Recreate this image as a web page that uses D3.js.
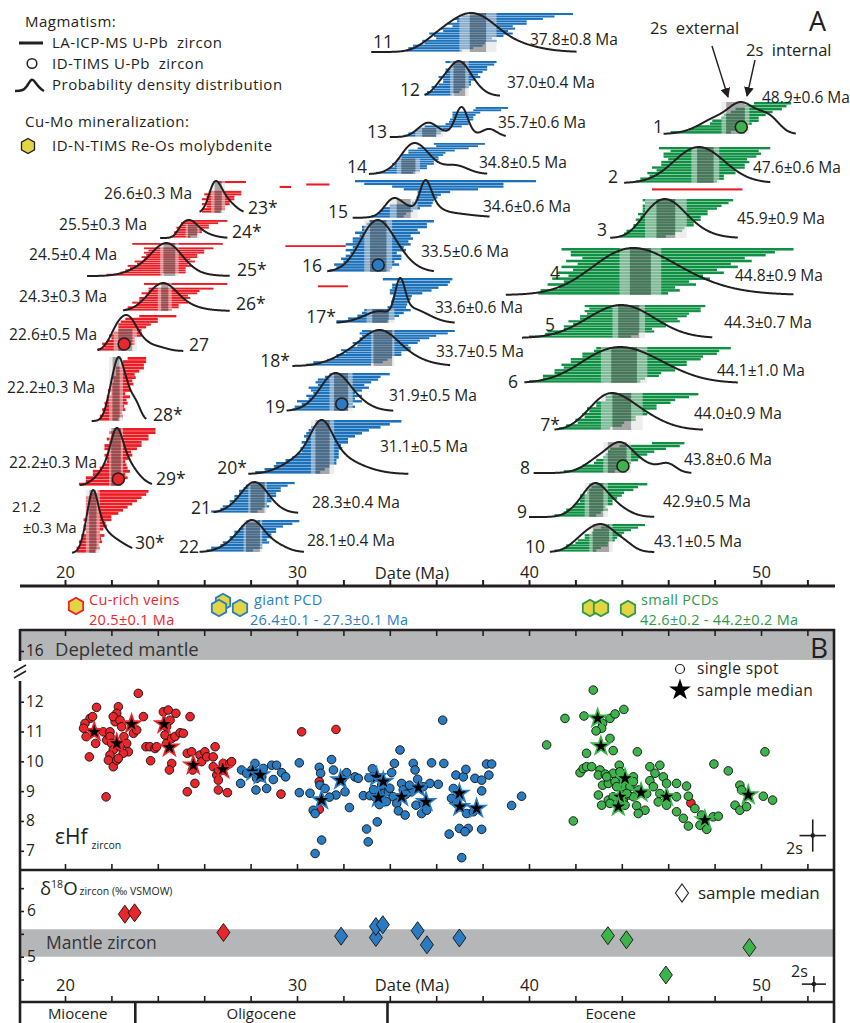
<!DOCTYPE html>
<html><head><meta charset="utf-8">
<script src="https://cdn.jsdelivr.net/npm/d3@7"></script>
<style>
body{margin:0;background:#fff;}
svg{display:block;font-family:"Open Sans",sans-serif;}
</style></head><body>
<svg id="chart" width="850" height="1023"></svg>
<script>
// ---------- Panel A: U-Pb zircon geochronology per sample ----------
const sampleIds = [1,2,3,4,5,6,7,8,9,10,11,12,13,14,15,16,17,18,19,20,21,22,23,24,25,26,27,28,29,30];
const starred = [7,17,18,20,23,24,25,26,28,29,30];
const ages   = [48.9,47.6,45.9,44.8,44.3,44.1,44.0,43.8,42.9,43.1,37.8,37.0,35.7,34.8,34.6,33.5,33.6,33.7,31.9,31.1,28.3,28.1,26.6,25.5,24.5,24.3,22.6,22.2,22.2,21.2];
const ext2s  = [0.6,0.6,0.9,0.9,0.7,1.0,0.9,0.6,0.5,0.5,0.8,0.4,0.6,0.5,0.6,0.6,0.6,0.5,0.5,0.5,0.4,0.4,0.3,0.3,0.4,0.3,0.5,0.3,0.3,0.3];
const int2s  = [0.4,0.35,0.4,0.45,0.45,0.55,0.4,0.4,0.3,0.35,0.35,0.25,0.3,0.3,0.3,0.35,0.35,0.4,0.3,0.3,0.3,0.3,0.15,0.2,0.25,0.15,0.3,0.15,0.2,0.15];
// number of youngest spots (bottom of each stack) pooled in the weighted mean; 0 = all
const meanCount = [0,0,0,0,0,0,0,0,0,0, 0,0,4,7,7,0,5,0,0,0,0,0, 0,6,0,0,8,0,0,0];
// date window over which each probability density curve is drawn
const pdfRange = [[45.8,51.5],[44.1,50.4],[43.5,49.0],[39.0,51.4],[39.7,47.9],[39.8,49.0],[41.1,47.5],[40.2,47.0],[40.0,45.4],[40.9,45.4],
  [33.2,42.05],[35.5,38.75],[34.0,39.0],[33.1,38.2],[32.4,38.3],[31.3,35.9],[31.7,36.8],[29.8,36.6],[29.55,34.15],[27.9,34.8],[26.4,30.05],[25.8,30.3],
  [25.8,27.7],[24.1,27.0],[20.95,27.1],[22.5,27.1],[21.4,25.1],[21.15,23.5],[20.65,23.75],[20.3,22.9]];
// ID-TIMS U-Pb zircon ages
const timsSample = [1,8,16,19,27,29];
const timsAge    = [49.15,44.05,33.5,31.93,22.55,22.3];

// LA-ICP-MS spot dates [age, 2s], listed bottom to top of each stack
const spots01 = [[47.4,1.3],[47.9,1.0],[48.3,1.1],[48.7,0.9],[48.9,1.0],[49.1,0.8],[49.3,0.9],[49.6,0.9],[49.9,1.0],[50.2,0.9],[50.5,0.8]];
const spots02 = [[46.35,1.75],[46.6,1.8],[46.8,1.6],[47.0,1.9],[47.2,1.7],[47.3,2.0],[47.5,1.8],[47.6,1.9],[47.7,1.7],[47.8,2.0],[47.9,2.1],[48.0,1.9],[48.0,2.4]];
const spots03 = [[44.9,1.0],[45.2,1.1],[45.4,1.2],[45.6,1.1],[45.8,1.3],[45.9,1.2],[46.0,1.4],[46.1,1.3],[46.2,1.5],[46.3,1.4],[46.5,1.6],[46.6,1.7],[46.8,1.8],[46.85,1.95]];
const spots04 = [[43.2,2.8],[43.5,3.0],[43.8,2.5],[44.0,3.2],[44.2,2.7],[44.4,3.4],[44.6,2.9],[44.8,3.6],[45.0,3.1],[45.2,3.8],[45.4,3.3],[45.6,4.0],[45.8,3.5],[46.0,4.2],[46.2,4.4],[46.4,5.0]];
const spots05 = [[42.2,2.2],[42.7,2.0],[43.1,2.3],[43.4,1.9],[43.7,2.2],[43.9,2.0],[44.1,2.4],[44.3,2.1],[44.5,2.3],[44.7,2.2],[44.9,2.5],[45.0,2.4],[45.0,2.6]];
const spots06 = [[42.4,2.4],[42.8,2.2],[43.1,2.5],[43.4,2.3],[43.7,2.6],[43.9,2.4],[44.1,2.7],[44.3,2.5],[44.6,2.8],[44.9,2.6],[45.2,2.9],[45.5,2.7],[45.8,2.9]];
const spots07 = [[42.4,1.1],[42.8,1.2],[43.1,1.0],[43.3,1.3],[43.5,1.1],[43.7,1.4],[43.8,1.2],[44.0,1.5],[44.2,1.3],[44.5,1.6],[44.8,1.5],[45.1,1.8],[45.4,1.9]];
const spots08 = [[42.6,1.1],[43.0,0.9],[43.3,1.0],[43.6,0.8],[43.8,0.9],[44.0,0.8],[44.2,0.9],[44.4,1.0],[44.7,1.2],[45.2,1.3],[46.0,0.7]];
const spots09 = [[42.0,0.9],[42.3,0.8],[42.5,0.9],[42.6,0.7],[42.8,0.8],[42.9,0.7],[43.0,0.8],[43.1,0.9],[43.3,0.8],[43.5,1.0],[43.7,1.0],[44.0,1.1]];
const spots10 = [[42.0,0.9],[42.3,0.8],[42.5,0.9],[42.7,0.7],[42.9,0.8],[43.1,0.7],[43.2,0.8],[43.4,0.7],[43.6,0.8],[43.9,0.8],[44.2,0.8]];
const spots11 = [[35.9,1.2],[36.2,1.4],[36.5,1.5],[36.8,1.3],[37.0,1.6],[37.2,1.2],[37.4,1.5],[37.5,1.8],[37.7,1.4],[37.8,1.6],[38.0,1.3],[38.2,1.7],[38.4,1.5],[38.7,1.9],[39.1,2.0],[39.8,2.1]];
const spots12 = [[36.1,0.6],[36.3,0.7],[36.5,0.6],[36.6,0.8],[36.8,0.7],[36.9,0.6],[37.0,0.7],[37.0,0.9],[37.1,0.7],[37.2,0.8],[37.3,0.9],[37.4,0.8],[37.6,0.9],[37.5,1.1]];
const spots13 = [[35.3,0.7],[35.5,0.7],[35.7,0.6],[35.9,0.7],[36.3,0.8],[36.9,0.5],[37.0,0.45],[37.1,0.5],[37.15,0.45],[37.2,0.5],[37.3,0.6],[38.2,0.6],[38.4,0.7]];
const spots14 = [[34.2,0.8],[34.6,0.7],[34.8,0.8],[34.9,0.7],[35.0,0.9],[35.1,0.8],[35.2,0.9],[35.3,0.8],[35.4,0.9],[35.6,0.8],[35.8,1.0],[36.3,1.1],[36.9,0.9],[37.0,1.1]];
const spots15 = [[33.9,0.7],[34.1,0.6],[34.3,0.7],[34.5,0.8],[34.9,0.9],[35.4,0.45],[35.5,0.4],[35.6,0.45],[35.7,0.5],[35.9,0.7],[36.2,1.6],[36.5,2.4],[35.9,3.0],[36.4,3.9]];
const spots16 = [[32.7,1.3],[32.9,1.2],[33.0,1.4],[33.1,1.1],[33.2,1.3],[33.3,1.2],[33.3,1.0],[33.4,1.3],[33.5,1.1],[33.5,1.4],[33.6,1.2],[33.7,1.3],[33.8,1.1],[33.9,1.4],[34.0,1.2],[34.2,1.4],[34.3,1.3],[34.5,1.4]];
const spots17 = [[32.8,1.1],[33.2,1.0],[33.5,0.9],[33.7,0.9],[33.9,1.0],[34.3,0.4],[34.4,0.35],[34.45,0.4],[34.5,0.4],[34.55,0.4],[34.7,0.7],[34.9,0.9],[35.1,1.0],[35.3,1.2],[35.5,1.1],[35.2,1.5]];
const spots18 = [[31.8,1.4],[32.2,1.5],[32.6,1.3],[32.9,1.2],[33.1,1.4],[33.3,1.2],[33.4,1.5],[33.6,1.3],[33.7,1.1],[33.8,1.4],[34.0,1.3],[34.2,1.5],[34.4,1.6],[34.6,1.9],[34.8,2.0]];
const spots19 = [[31.0,1.2],[31.2,1.3],[31.3,1.1],[31.4,1.4],[31.5,1.0],[31.6,1.2],[31.6,0.9],[31.7,1.1],[31.8,1.3],[31.9,1.0],[32.0,1.2],[32.2,1.3],[32.4,1.2],[32.7,1.3]];
const spots20 = [[29.6,1.4],[29.9,1.3],[30.2,1.2],[30.4,1.3],[30.6,1.1],[30.8,1.0],[30.9,0.9],[31.0,0.8],[31.05,0.9],[31.1,0.8],[31.2,1.0],[31.3,0.9],[31.4,1.1],[31.6,1.2],[31.8,1.3],[32.1,1.5],[32.4,1.6],[32.7,1.8]];
const spots21 = [[27.3,1.0],[27.6,0.9],[27.8,1.0],[27.9,0.8],[28.0,0.9],[28.1,0.8],[28.2,0.9],[28.3,0.8],[28.4,0.9],[28.5,0.8],[28.7,0.9],[29.0,0.9]];
const spots22 = [[27.1,1.0],[27.4,1.1],[27.6,0.9],[27.8,1.0],[27.9,0.8],[28.0,0.9],[28.1,0.8],[28.2,0.9],[28.3,0.8],[28.5,0.9],[28.8,1.0],[29.2,0.9]];
const spots23 = [[26.3,0.4],[26.4,0.5],[26.5,0.4],[26.5,0.6],[26.6,0.5],[26.6,0.7],[26.7,0.6],[26.8,0.8],[26.9,0.7],[47.25,1.95],[29.5,0.25],[30.9,0.5],[27.2,0.6]];
const spots24 = [[25.0,0.4],[25.2,0.5],[25.3,0.6],[25.4,0.5],[25.5,0.7],[25.6,0.6],[25.8,0.8],[26.1,0.9]];
const spots25 = [[23.0,1.2],[23.8,1.4],[23.9,1.3],[24.0,1.2],[24.1,1.4],[24.2,1.1],[24.3,1.3],[24.4,1.0],[24.5,1.2],[24.6,1.1],[24.7,1.3],[24.8,1.2],[24.9,1.5],[30.8,1.3],[24.85,1.95]];
const spots26 = [[23.6,1.0],[23.8,1.1],[24.0,0.9],[24.1,1.2],[24.2,1.0],[24.3,1.1],[24.4,0.9],[24.5,1.2],[24.7,1.1],[25.0,1.4],[31.55,0.65],[25.2,1.8]];
const spots27 = [[22.0,0.6],[22.2,0.5],[22.3,0.7],[22.4,0.6],[22.5,0.5],[22.6,0.7],[22.7,0.6],[22.8,0.5],[22.9,0.6],[23.0,0.7],[23.2,0.8],[23.3,0.7],[24.0,0.8]];
const spots28 = [[21.9,0.4],[22.0,0.5],[22.05,0.4],[22.1,0.5],[22.15,0.4],[22.2,0.5],[22.25,0.4],[22.3,0.5],[22.3,0.3],[22.35,0.5],[22.4,0.4],[22.45,0.5],[22.5,0.4],[22.55,0.5],[22.6,0.4],[22.7,0.5],[22.8,0.6],[22.9,0.5],[23.0,0.5],[23.1,0.4]];
const spots29 = [[21.5,0.9],[21.7,0.8],[21.8,0.9],[21.9,0.7],[22.0,0.8],[22.1,0.6],[22.15,0.5],[22.2,0.4],[22.25,0.5],[22.3,0.6],[22.35,0.5],[22.4,0.7],[22.5,0.8],[22.6,0.7],[22.7,0.9],[22.8,0.8],[22.9,1.0],[23.0,0.9]];
const spots30 = [[20.9,0.4],[21.0,0.5],[21.05,0.4],[21.1,0.5],[21.15,0.4],[21.2,0.5],[21.2,0.3],[21.25,0.4],[21.3,0.5],[21.35,0.4],[21.4,0.6],[21.5,0.5],[21.6,0.7],[21.7,0.8],[21.8,0.9],[21.9,1.0],[22.0,1.1],[22.1,1.2],[22.3,1.2],[22.5,1.1]];
const spotTable = [spots01,spots02,spots03,spots04,spots05,spots06,spots07,spots08,spots09,spots10,spots11,spots12,spots13,spots14,spots15,
  spots16,spots17,spots18,spots19,spots20,spots21,spots22,spots23,spots24,spots25,spots26,spots27,spots28,spots29,spots30];

// ---------- Panel B: zircon epsilon-Hf ----------
const hfRed = [[21.36,11.81],[21.08,11.44],[21.19,11.50],[20.86,11.27],[20.80,11.11],[20.91,10.83],[21.32,10.60],[21.05,10.15],[21.77,8.81],[21.65,10.99],[21.80,10.71],[21.94,10.99],[21.94,10.83],[22.01,10.60],[22.08,10.38],[21.94,10.21],[21.87,10.04],[22.08,9.82],[22.23,10.04],[22.16,11.33],[22.30,11.83],[22.23,11.61],[22.08,11.50],[22.37,11.38],[22.44,11.16],[22.54,10.83],[22.66,10.60],[22.73,10.32],[22.51,10.27],[22.37,10.49],[22.30,10.10],[23.16,12.28],[23.38,11.50],[22.95,10.94],[23.09,11.05],[23.49,10.49],[23.66,10.49],[23.69,10.02],[23.88,10.43],[23.95,10.49],[24.24,11.66],[24.45,11.72],[24.53,11.38],[24.38,11.16],[24.31,10.88],[24.38,10.60],[24.78,11.61],[24.60,10.77],[24.74,10.83],[24.96,10.96],[25.10,10.94],[25.39,11.50],[24.60,9.93],[24.50,9.71],[25.27,10.27],[25.46,10.32],[25.60,9.26],[25.27,8.98],[25.50,9.71],[25.82,10.21],[25.89,9.99],[26.03,10.32],[26.11,10.15],[26.47,10.49],[26.39,10.15],[26.39,9.82],[26.54,9.54],[26.61,9.71],[26.61,9.37],[26.61,9.04],[27.00,8.95],[26.82,9.93],[27.11,9.93],[27.18,9.99],[30.20,10.99],[31.68,11.07],[30.96,9.32],[30.96,8.39],[29.31,8.90],[46.98,8.60]];
const hfBlue = [[27.61,9.71],[27.57,9.26],[27.83,9.60],[28.05,9.71],[28.19,9.93],[28.26,9.43],[28.23,9.04],[28.55,9.76],[28.48,9.48],[28.69,9.09],[28.91,9.87],[29.12,9.87],[28.98,9.39],[29.34,9.62],[29.51,9.48],[30.10,9.95],[30.10,8.95],[30.56,8.93],[30.70,8.36],[30.78,8.25],[30.96,9.80],[31.02,9.60],[30.99,9.20],[31.21,9.09],[31.49,10.06],[31.57,9.71],[31.68,8.87],[32.14,9.62],[32.07,8.98],[32.26,8.45],[32.50,9.48],[32.64,9.43],[31.06,7.36],[30.78,6.91],[33.00,7.73],[33.07,7.30],[33.46,7.97],[32.86,8.85],[33.15,8.85],[33.36,8.81],[33.58,8.93],[33.79,8.98],[33.94,8.98],[34.08,9.62],[34.20,9.93],[34.44,10.38],[34.51,9.26],[34.58,9.04],[34.15,8.81],[34.30,8.59],[34.37,8.34],[34.66,8.20],[35.01,9.93],[35.09,9.71],[34.94,8.98],[35.13,8.53],[35.45,8.59],[36.28,11.38],[35.80,9.95],[36.33,9.93],[36.85,9.54],[37.17,9.48],[37.28,9.73],[37.67,9.43],[37.96,9.37],[38.17,9.91],[38.39,9.91],[38.27,9.54],[37.96,9.01],[36.09,9.23],[35.73,9.26],[35.44,9.15],[35.37,8.25],[35.59,8.36],[36.74,9.09],[36.66,8.76],[36.88,8.59],[37.31,8.25],[37.60,8.31],[36.56,7.56],[37.00,7.75],[37.38,7.75],[37.24,7.64],[37.96,7.72],[37.10,6.77],[39.25,8.52],[39.68,8.83],[33.30,9.05],[33.65,9.20],[34.00,9.10],[33.85,8.65],[34.70,8.90],[34.85,9.20],[35.20,9.40],[33.55,8.55],[31.40,8.80],[31.95,9.40],[33.10,9.45],[33.25,9.75]];
const hfGreen = [[42.77,12.39],[41.55,11.44],[42.37,11.52],[43.49,11.44],[43.71,11.59],[44.09,11.74],[43.17,11.27],[43.13,11.11],[42.89,11.02],[43.49,10.77],[43.63,10.36],[42.48,10.27],[40.76,10.55],[44.67,10.32],[42.20,9.62],[42.34,9.76],[42.48,9.82],[42.70,9.82],[43.06,9.71],[42.99,9.54],[43.29,9.57],[43.63,9.60],[43.89,9.87],[43.92,9.65],[43.99,9.37],[44.50,9.48],[43.17,9.20],[43.42,9.26],[43.71,9.32],[44.06,9.15],[44.35,9.15],[44.50,9.32],[45.21,9.82],[45.64,9.87],[45.43,9.60],[45.79,9.48],[45.21,9.35],[45.93,9.26],[46.36,9.26],[46.79,9.17],[42.99,8.87],[43.42,8.70],[43.63,8.81],[44.06,8.70],[44.28,8.87],[44.50,8.81],[44.71,9.04],[45.07,8.92],[45.64,8.92],[45.57,8.64],[45.93,8.53],[46.36,8.81],[46.87,8.83],[43.13,8.53],[43.49,8.59],[44.14,8.53],[44.64,8.51],[45.00,8.36],[44.71,8.25],[46.36,8.31],[46.65,8.09],[46.87,7.83],[47.15,8.42],[47.44,8.20],[47.37,7.86],[47.66,7.72],[47.94,8.14],[48.16,8.16],[47.97,9.91],[48.59,9.68],[49.09,9.20],[49.16,9.04],[48.88,8.53],[49.09,8.36],[49.38,8.48],[50.10,8.83],[50.50,8.70],[50.17,10.32],[41.91,8.00],[43.35,9.48],[43.78,9.15],[44.21,8.92],[45.36,9.15]];
const medRed = [[21.26,10.99],[22.23,10.60],[22.87,11.25],[24.27,11.25],[24.50,10.47],[25.53,9.87],[26.80,9.73]];
const medBlue = [[28.09,9.65],[28.41,9.54],[31.06,8.70],[31.88,9.37],[33.43,9.48],[33.72,9.32],[33.51,8.78],[34.51,8.81],[35.23,9.12],[35.56,8.64],[37.00,8.92],[37.02,8.48],[37.74,8.42]];
const medGreen = [[42.96,11.44],[43.10,10.51],[44.14,9.43],[43.92,8.81],[43.85,8.48],[44.83,8.95],[45.93,8.81],[47.58,8.03],[49.45,8.87]];
const hfError = [52.23, 7.51, 0.57, 0.54];      // date, eHf, 2s date, 2s eHf
const depletedMantle = [15.7, 16.7];

// ---------- Panel C: zircon d18O sample medians ----------
const d18Red = [[22.58,5.93],[23.0,5.96],[26.83,5.53]];
const d18Blue = [[31.9,5.45],[33.4,5.42],[33.4,5.66],[33.7,5.70],[35.2,5.57],[35.6,5.26],[37.0,5.41]];
const d18Green = [[43.4,5.46],[44.2,5.37],[45.9,4.60],[49.5,5.20]];
const mantleZircon = [5.0, 5.6];
const d18Error = [52.28, 4.40, 0.52, 0.18];

// time scale
const epochNames = ['Miocene','Oligocene','Eocene'];
const epochBounds = [23.03, 33.9];
const majorTicks = [20,30,40,50];

// ---------- layout (pixels) ----------
const rowBase   = [134,183,238,295,338,383,430,473,517,552, 52,96,137,174,218,272,323,366,411,474,513,552, 213,238,276,311,351,421,486,553];
const rowHeight = [32,36,39,47,33,36,37,31,34,28, 39,35,30,31,38,52,45,36,38,54,31,32, 32,18,33,28,36,64,58,63];
const numLabelPos = [[663,133],[618,183],[607,236],[560,279],[555,331],[518,388],[560,431],[530,474],[527,518],[545,553],
  [393,48],[420,96],[387,138],[367,173],[348,218],[322,272],[336,323],[290,367],[285,413],[247,474],[211,514],[199,553],
  [248,214],[232,238],[237,276],[236,310],[189,351],[153,421],[156,485],[135,549]];
const ageLabelPos = [[762,103],[753,173],[737,224],[735,281],[724,328],[717,376],[694,419],[684,465],[663,507],[654,547],
  [530,45],[507,88],[498,128],[479,168],[483,212],[421,257],[435,313],[436,357],[389,401],[380,452],[312,508],[307,546],
  [192,199],[147,230],[117,260],[107,302],[97,340],[95,393],[97,468],[12,512]];

const ink = '#231f20';
const barColor = {green:'#0e9043', blue:'#1b72bb', red:'#ed1c24'};
const dotColor = {green:'#3cb44b', blue:'#2a7bc1', red:'#e8262b'};
const textColor = {green:'#2f9a47', blue:'#2a7ec0', red:'#e8262b'};
const hexFill = '#e2d443';
const bandGray = '#b5b6b8';
const suiteOf = id => id <= 10 ? 'green' : (id <= 22 ? 'blue' : 'red');
const NB = '\u00a0';

const svg = d3.select('#chart');
const x = d3.scaleLinear().domain([20, 30]).range([65, 297]);
const yHf = d3.scaleLinear().domain([7, 12]).range([850.8, 701.7]);
const yHfTop = d3.scaleLinear().domain([15, 17]).range([680.8, 621.2]);
const yO = d3.scaleLinear().domain([5, 6]).range([956.7, 911]);

function hexPath(cx, cy, r) {
  return d3.line()(d3.range(6).map(k => {
    const a = Math.PI / 180 * (60 * k - 90);
    return [cx + r * Math.cos(a), cy + r * Math.sin(a)];
  })) + 'Z';
}
function txt(g, s, xx, yy, size, opts = {}) {
  const t = g.append('text').attr('x', xx).attr('y', yy).attr('font-size', size)
    .attr('fill', opts.fill || ink).attr('text-anchor', opts.anchor || 'start').text(s);
  if (opts.ls) t.attr('letter-spacing', opts.ls);
  return t;
}

// ---------- Panel A ----------
const gA = svg.append('g');
sampleIds.forEach((id, i) => {
  const sp = spotTable[i];
  const suite = suiteOf(id);
  const base = rowBase[i], h = rowHeight[i];
  const bh = h / sp.length;
  const hb = (meanCount[i] || sp.length) * bh;   // height of the pooled (weighted-mean) part
  const g = gA.append('g');
  g.selectAll('rect.spot').data(sp).join('rect').attr('class', 'spot')
    .attr('x', d => x(d[0] - d[1]))
    .attr('width', d => x(d[0] + d[1]) - x(d[0] - d[1]))
    .attr('y', (d, j) => base - (j + 1) * bh)
    .attr('height', Math.max(bh - 0.4, 0.8))
    .attr('fill', barColor[suite]);
  const a = ages[i], e = ext2s[i], n = int2s[i];
  // 2s external (outer light band) and 2s internal (inner dark band)
  [[a - e, a - n], [a + n, a + e]].forEach(([lo, hi]) => {
    g.append('rect').attr('x', x(lo)).attr('width', x(hi) - x(lo))
      .attr('y', base - hb).attr('height', hb).attr('fill', '#dedede').attr('opacity', 0.55);
  });
  g.append('rect').attr('x', x(a - n)).attr('width', x(a + n) - x(a - n))
    .attr('y', base - hb).attr('height', hb).attr('fill', '#6a6a6a').attr('opacity', 0.6);
  // probability density distribution from the spot dates
  const [d0, d1] = pdfRange[i];
  const grid = d3.range(0, 241).map(k => d0 + (d1 - d0) * k / 240);
  const dens = grid.map(t => d3.sum(sp, s => {
    const sg = s[1] / 2;
    return Math.exp(-0.5 * ((t - s[0]) / sg) ** 2) / sg;
  }));
  const mx = d3.max(dens);
  g.append('path').datum(dens)
    .attr('d', d3.line().x((d, k) => x(grid[k])).y(d => base - d / mx * h).curve(d3.curveBasis))
    .attr('fill', 'none').attr('stroke', ink).attr('stroke-width', 2);
  // ID-TIMS age
  const ti = timsSample.indexOf(id);
  if (ti >= 0) {
    g.append('circle').attr('cx', x(timsAge[ti])).attr('cy', base - 7).attr('r', 6)
      .attr('fill', dotColor[suite]).attr('stroke', ink).attr('stroke-width', 1.6);
  }
  // labels
  const lbl = id + (starred.includes(id) ? '*' : '');
  txt(g, lbl, numLabelPos[i][0], numLabelPos[i][1], 17.5, {anchor: suite === 'red' ? 'start' : 'end'});
  const ageStr = a.toFixed(1) + '±' + e.toFixed(1) + ' Ma';
  if (id === 30) {
    txt(g, a.toFixed(1), ageLabelPos[i][0], ageLabelPos[i][1], 14.5);
    txt(g, '±' + e.toFixed(1) + ' Ma', ageLabelPos[i][0] + 11, ageLabelPos[i][1] + 20.5, 14.5);
  } else {
    txt(g, ageStr, ageLabelPos[i][0], ageLabelPos[i][1], 15.5, {anchor: suite === 'red' ? 'end' : 'start'});
  }
});

// Panel A axis
const axA = svg.append('g').attr('transform', 'translate(0,586)')
  .call(d3.axisTop(x).tickValues(d3.range(20, 53, 2)).tickSize(6).tickPadding(2)
    .tickFormat(d => majorTicks.includes(d) ? d : ''));
axA.select('.domain').remove();
axA.selectAll('line').attr('stroke', ink).attr('stroke-width', 2);
axA.selectAll('text').attr('font-size', 16.5).attr('fill', ink).attr('font-family', '"Open Sans",sans-serif');
svg.append('line').attr('x1', 20).attr('x2', 835).attr('y1', 586).attr('y2', 586).attr('stroke', ink).attr('stroke-width', 3);
txt(svg, 'Date (Ma)', 412, 579, 16.5, {anchor: 'middle'});

// Panel A legend
const LS = 0.5;
txt(svg, 'Magmatism:', 25, 26.5, 15, {ls: LS});
svg.append('line').attr('x1', 19).attr('x2', 43).attr('y1', 43).attr('y2', 43).attr('stroke', ink).attr('stroke-width', 3);
txt(svg, 'LA-ICP-MS U-Pb' + NB + ' zircon', 52, 48, 15, {ls: LS});
svg.append('circle').attr('cx', 32).attr('cy', 63.5).attr('r', 4.8).attr('fill', 'none').attr('stroke', ink).attr('stroke-width', 1.5);
txt(svg, 'ID-TIMS U-Pb' + NB + ' zircon', 52, 69, 15, {ls: LS});
svg.append('path').attr('d', 'M15,91 C22,91 24,90 27,86 C30,81 31,79 33,80 C35,81 38,88 44,91')
  .attr('fill', 'none').attr('stroke', ink).attr('stroke-width', 2.5);
txt(svg, 'Probability density distribution', 52, 90, 15, {ls: LS});
txt(svg, 'Cu-Mo mineralization:', 25, 127, 15, {ls: LS});
svg.append('path').attr('d', hexPath(28, 146, 7.5)).attr('fill', hexFill).attr('stroke', ink).attr('stroke-width', 1.3);
txt(svg, 'ID-N-TIMS Re-Os molybdenite', 52, 151, 15, {ls: LS});

// 2s annotations
txt(svg, '2s' + NB + ' external', 650, 34, 16.5);
txt(svg, '2s' + NB + ' internal', 746, 56, 16.5);
svg.append('defs').append('marker').attr('id', 'arr').attr('viewBox', '0 0 10 10').attr('refX', 9).attr('refY', 5)
  .attr('markerWidth', 7).attr('markerHeight', 7).attr('orient', 'auto')
  .append('path').attr('d', 'M0,0 L10,5 L0,10 Z').attr('fill', ink);
svg.append('line').attr('x1', 712).attr('y1', 46).attr('x2', 728).attr('y2', 97).attr('stroke', ink).attr('stroke-width', 1.4).attr('marker-end', 'url(#arr)');
svg.append('line').attr('x1', 755).attr('y1', 60).attr('x2', 747).attr('y2', 96).attr('stroke', ink).attr('stroke-width', 1.4).attr('marker-end', 'url(#arr)');
txt(svg, 'A', 809, 31, 27);

// Re-Os molybdenite legend row
const hexRow = svg.append('g');
[[76, 606, 'red'], [223, 602, 'blue'], [219, 608, 'blue'], [240, 608, 'blue'], [590, 608, 'green'], [601, 608, 'green'], [628, 609, 'green']]
  .forEach(([cx, cy, s]) => hexRow.append('path').attr('d', hexPath(cx, cy, 8.3)).attr('fill', hexFill)
    .attr('stroke', textColor[s]).attr('stroke-width', 1.8));
txt(svg, 'Cu-rich veins', 89, 605, 14.5, {fill: textColor.red, ls: 0.3});
txt(svg, '20.5±0.1 Ma', 89, 624.5, 14.5, {fill: textColor.red, ls: 0.3});
txt(svg, 'giant PCD', 254, 605, 14.5, {fill: textColor.blue, ls: 0.3});
txt(svg, '26.4±0.1 - 27.3±0.1 Ma', 250, 624.5, 14.5, {fill: textColor.blue, ls: 0.3});
txt(svg, 'small PCDs', 641, 605, 14.5, {fill: textColor.green, ls: 0.3});
txt(svg, '42.6±0.2 - 44.2±0.2 Ma', 640, 624.5, 14.5, {fill: textColor.green, ls: 0.3});

// ---------- Panel B ----------
const gB = svg.append('g');
gB.append('rect').attr('x', 20).attr('y', yHfTop(depletedMantle[1])).attr('width', 814)
  .attr('height', yHfTop(depletedMantle[0]) - yHfTop(depletedMantle[1])).attr('fill', bandGray);
txt(gB, 'Depleted mantle', 55, 656, 18.5, {fill: '#333'});
txt(gB, 'B', 810, 658, 28);

const sym = d3.symbol();
[['red', hfRed], ['blue', hfBlue], ['green', hfGreen]].forEach(([s, pts]) => {
  gB.selectAll(null).data(pts).join('circle')
    .attr('cx', d => x(d[0])).attr('cy', d => yHf(d[1])).attr('r', 4.3)
    .attr('fill', dotColor[s]).attr('stroke', '#111').attr('stroke-width', 0.9);
});
[['red', medRed], ['blue', medBlue], ['green', medGreen]].forEach(([s, pts]) => {
  gB.selectAll(null).data(pts).join('path')
    .attr('transform', d => `translate(${x(d[0])},${yHf(d[1])})`)
    .attr('d', sym.type(d3.symbolStar).size(105)())
    .attr('fill', '#000').attr('stroke', dotColor[s]).attr('stroke-width', 1.6);
});
// legend
gB.append('circle').attr('cx', 680).attr('cy', 669).attr('r', 4.5).attr('fill', 'none').attr('stroke', ink).attr('stroke-width', 1.2);
txt(gB, 'single spot', 697, 674, 15.5, {ls: 0.4});
gB.append('path').attr('transform', 'translate(680,690)').attr('d', d3.symbol(d3.symbolStar, 150)()).attr('fill', '#000');
txt(gB, 'sample median', 697, 695.5, 15.5, {ls: 0.4});
// epsilon-Hf label
const eps = gB.append('text').attr('x', 55).attr('y', 844).attr('fill', ink);
eps.append('tspan').attr('font-size', 21).text('εHf');
eps.append('tspan').attr('font-size', 10.5).attr('dx', 4).attr('dy', 5).text('zircon');
// 2s error cross
const cx1 = x(hfError[0]), cy1 = yHf(hfError[1]);
gB.append('line').attr('x1', x(hfError[0] - hfError[2])).attr('x2', x(hfError[0] + hfError[2])).attr('y1', cy1).attr('y2', cy1).attr('stroke', ink).attr('stroke-width', 1.6);
gB.append('line').attr('x1', cx1).attr('x2', cx1).attr('y1', yHf(hfError[1] - hfError[3])).attr('y2', yHf(hfError[1] + hfError[3])).attr('stroke', ink).attr('stroke-width', 1.6);
gB.append('circle').attr('cx', cx1).attr('cy', cy1).attr('r', 2.3).attr('fill', ink);
txt(gB, '2s', 786, 854, 16);

// ---------- Panel C ----------
const gC = svg.append('g');
gC.append('rect').attr('x', 20).attr('y', yO(mantleZircon[1])).attr('width', 814)
  .attr('height', yO(mantleZircon[0]) - yO(mantleZircon[1])).attr('fill', bandGray);
txt(gC, 'Mantle zircon', 46, 949, 17.5, {fill: '#333'});
const dia = 'M0,-9 L6.5,0 L0,9 L-6.5,0 Z';
[['red', d18Red], ['blue', d18Blue], ['green', d18Green]].forEach(([s, pts]) => {
  gC.selectAll(null).data(pts).join('path')
    .attr('transform', d => `translate(${x(d[0])},${yO(d[1])})`).attr('d', dia)
    .attr('fill', dotColor[s]).attr('stroke', '#111').attr('stroke-width', 0.9);
});
gC.append('path').attr('transform', 'translate(682,893)').attr('d', dia).attr('fill', 'none').attr('stroke', ink).attr('stroke-width', 1.1);
txt(gC, 'sample median', 698, 898.5, 17);
const dl = gC.append('text').attr('x', 40).attr('y', 895).attr('fill', ink);
dl.append('tspan').attr('font-size', 18.5).text('δ');
dl.append('tspan').attr('font-size', 10.5).attr('dy', -7).text('18');
dl.append('tspan').attr('font-size', 18.5).attr('dy', 7).text('O');
dl.append('tspan').attr('font-size', 10.5).attr('dx', 2).text('zircon (‰ VSMOW)');
const cx2 = x(d18Error[0]), cy2 = yO(d18Error[1]);
gC.append('line').attr('x1', x(d18Error[0] - d18Error[2])).attr('x2', x(d18Error[0] + d18Error[2])).attr('y1', cy2).attr('y2', cy2).attr('stroke', ink).attr('stroke-width', 1.6);
gC.append('line').attr('x1', cx2).attr('x2', cx2).attr('y1', yO(d18Error[1] - d18Error[3])).attr('y2', yO(d18Error[1] + d18Error[3])).attr('stroke', ink).attr('stroke-width', 1.6);
gC.append('circle').attr('cx', cx2).attr('cy', cy2).attr('r', 2.3).attr('fill', ink);
txt(gC, '2s', 791, 977, 16);

// ---------- frames, ticks and axes ----------
function styleAxis(g, fs) {
  g.select('.domain').remove();
  g.selectAll('line').attr('stroke', ink).attr('stroke-width', 1.6);
  g.selectAll('text').attr('font-size', fs).attr('fill', ink).attr('font-family', '"Open Sans",sans-serif');
}
const twoMa = d3.range(20, 53, 2);
const intFmt = d3.format('d');
styleAxis(svg.append('g').attr('transform', 'translate(0,630)').call(d3.axisBottom(x).tickValues(twoMa).tickSize(6).tickFormat('')), 14);
styleAxis(svg.append('g').attr('transform', 'translate(0,870)').call(d3.axisTop(x).tickValues(twoMa).tickSize(6).tickFormat('')), 14);
styleAxis(svg.append('g').attr('transform', 'translate(0,1002)').call(d3.axisTop(x).tickValues(twoMa).tickSize(6).tickPadding(5)
  .tickFormat(d => majorTicks.includes(d) ? d : '')), 16.5);
txt(svg, 'Date (Ma)', 412, 991, 16.5, {anchor: 'middle'});
styleAxis(svg.append('g').attr('transform', 'translate(20,0)').call(d3.axisRight(yHf).tickValues([7,8,9,10,11,12]).tickSize(4).tickPadding(2).tickFormat(intFmt)), 15.5);
styleAxis(svg.append('g').attr('transform', 'translate(20,0)').call(d3.axisRight(yHfTop).tickValues([16]).tickSize(4).tickPadding(2).tickFormat(intFmt)), 15.5);
styleAxis(svg.append('g').attr('transform', 'translate(20,0)').call(d3.axisRight(yO).tickValues([4.5,5,5.5,6,6.5]).tickSize(4).tickPadding(3)
  .tickFormat(d => Number.isInteger(d) ? d : '')), 15.5);

const frame = svg.append('g').attr('stroke', ink).attr('stroke-width', 2.6).attr('fill', 'none');
frame.append('line').attr('x1', 20).attr('x2', 835).attr('y1', 630).attr('y2', 630);
frame.append('line').attr('x1', 20).attr('x2', 835).attr('y1', 870).attr('y2', 870);
frame.append('line').attr('x1', 20).attr('x2', 835).attr('y1', 1002).attr('y2', 1002);
frame.append('line').attr('x1', 834).attr('x2', 834).attr('y1', 629).attr('y2', 1023);
frame.append('line').attr('x1', 20).attr('x2', 20).attr('y1', 629).attr('y2', 661);
frame.append('line').attr('x1', 20).attr('x2', 20).attr('y1', 681).attr('y2', 1023);
epochBounds.forEach(b => frame.append('line').attr('x1', x(b)).attr('x2', x(b)).attr('y1', 1002).attr('y2', 1023));
// axis break
frame.append('path').attr('d', 'M14,672 L26,665 M14,678 L26,671').attr('stroke-width', 1.6);

const epochEdges = [20, ...epochBounds.map(b => x(b)), 834];
epochNames.forEach((nm, k) => txt(svg, nm, (epochEdges[k] + epochEdges[k + 1]) / 2, 1019, 15, {anchor: 'middle'}));
</script>
</body></html>
